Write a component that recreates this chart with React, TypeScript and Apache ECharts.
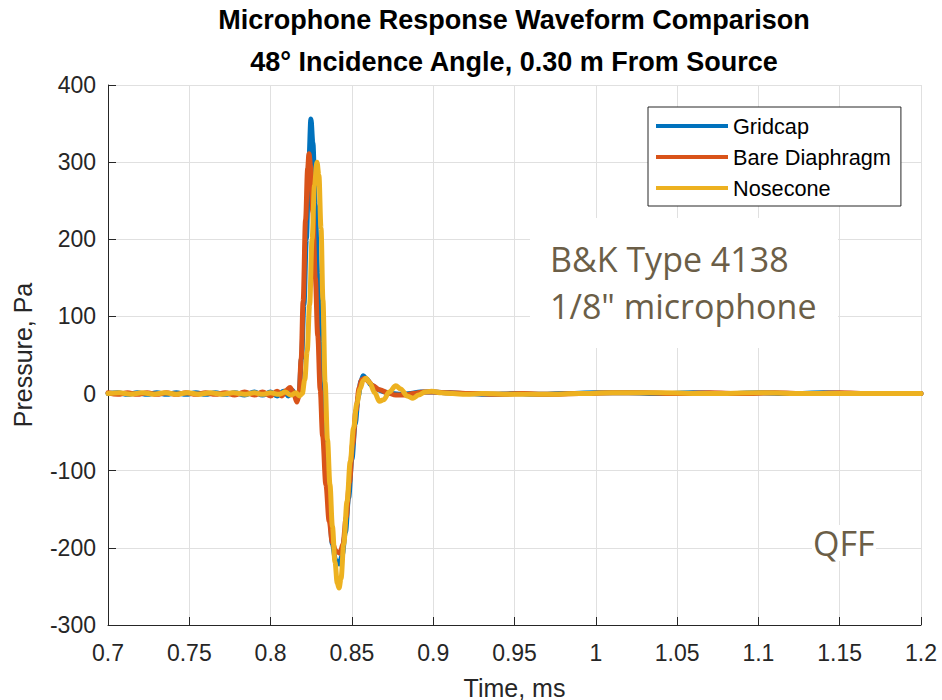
import React, { useEffect, useRef } from "react";
import * as echarts from "echarts";

const TITLE_LINE_1 = "Microphone Response Waveform Comparison";
const TITLE_LINE_2 = "48°\u00A0Incidence Angle, 0.30 m From Source";
const X_NAME = "Time, ms";
const Y_NAME = "Pressure, Pa";
const SERIES_NAMES = ["Gridcap", "Bare Diaphragm", "Nosecone"];
const SERIES_COLORS = ["#0072BD", "#D95319", "#EDB120"];
const X_RANGE = [0.7, 1.2, 0.05];
const Y_RANGE = [-300, 400, 100];
const NOTE_LINES = ["B&K Type 4138", '1/8" microphone'];
const NOTE_QFF = "QFF";

// [time ms, pressure Pa]
const gridcap: [number, number][] = [
  [0.7, 0], [0.706, 1], [0.712, -1], [0.718, 1], [0.724, -1], [0.73, 1], [0.736, -1],
  [0.742, 1], [0.748, -1], [0.754, 1], [0.76, -1], [0.766, 1], [0.772, -1], [0.778, 1],
  [0.784, -2], [0.79, 2], [0.795, -2], [0.8, 2], [0.804, -3], [0.808, 3], [0.811, -3],
  [0.8135, 4], [0.815, -2], [0.8165, -7], [0.8175, 0], [0.819, 45], [0.8205, 115],
  [0.822, 200], [0.8235, 300], [0.8248, 356], [0.826, 325], [0.8275, 245], [0.829, 155],
  [0.8305, 65], [0.832, -15], [0.834, -85], [0.836, -150], [0.838, -195], [0.84, -216],
  [0.8422, -221], [0.844, -210], [0.846, -180], [0.848, -135], [0.85, -85], [0.852, -40],
  [0.854, -3], [0.8555, 16], [0.857, 23], [0.859, 19], [0.862, 11], [0.866, 5], [0.87, 2],
  [0.875, 0], [0.88, -1], [0.886, 0], [0.892, 2], [0.9, 2], [0.91, 1], [0.92, 0],
  [0.935, -1], [0.95, 0], [0.965, -1], [0.98, 0], [1.0, 1], [1.02, 1], [1.04, 0],
  [1.06, 1], [1.08, 0], [1.1, 1], [1.12, 0], [1.14, 1], [1.16, 0], [1.18, 0], [1.2, 0],
];

const bareDiaphragm: [number, number][] = [
  [0.7, 1], [0.706, -1], [0.712, 1], [0.718, -1], [0.724, 1], [0.73, -1], [0.736, 1],
  [0.742, -1], [0.748, 1], [0.754, -1], [0.76, 1], [0.766, -1], [0.772, 1], [0.778, -2],
  [0.784, 2], [0.79, -2], [0.795, 2], [0.8, -3], [0.804, 3], [0.807, -3], [0.8095, 4],
  [0.812, 8], [0.8142, 0], [0.8162, -11], [0.8175, -2], [0.8188, 45], [0.82, 120],
  [0.8215, 225], [0.8228, 292], [0.8236, 311], [0.8246, 295], [0.826, 235], [0.8275, 150],
  [0.829, 75], [0.8305, 5], [0.832, -55], [0.834, -118], [0.836, -165], [0.838, -193],
  [0.84, -204], [0.8427, -207], [0.8445, -195], [0.8465, -160], [0.8485, -115],
  [0.8505, -65], [0.8525, -22], [0.8545, 8], [0.856, 18], [0.858, 20], [0.86, 16],
  [0.863, 10], [0.867, 5], [0.872, 1], [0.877, -2], [0.882, -2], [0.888, 0], [0.894, 2],
  [0.9, 2], [0.91, 1], [0.925, 0], [0.94, -1], [0.955, 0], [0.97, -1], [0.99, 0],
  [1.01, 1], [1.03, 1], [1.05, 0], [1.07, 1], [1.09, 0], [1.11, 1], [1.13, 0],
  [1.15, 1], [1.17, 0], [1.2, 0],
];

const nosecone: [number, number][] = [
  [0.7, 0], [0.707, 1], [0.714, -1], [0.721, 1], [0.728, -1], [0.735, 1], [0.742, -1],
  [0.749, 1], [0.756, -1], [0.763, 1], [0.77, -1], [0.777, 1], [0.784, -1], [0.79, 1],
  [0.795, -1], [0.8, 1], [0.805, -1], [0.809, 2], [0.8125, -2], [0.8155, 1], [0.8178, -3],
  [0.8195, 0], [0.821, 18], [0.8225, 55], [0.824, 115], [0.8255, 200], [0.827, 270],
  [0.8285, 300], [0.8297, 283], [0.831, 215], [0.8322, 121], [0.8335, 15], [0.835, -60],
  [0.8365, -118], [0.838, -172], [0.8396, -218], [0.841, -246], [0.8421, -252],
  [0.8433, -240], [0.845, -195], [0.847, -140], [0.849, -88], [0.851, -45], [0.853, -13],
  [0.855, 6], [0.857, 17], [0.8587, 20], [0.861, 14], [0.864, 1], [0.867, -10],
  [0.8695, -8], [0.873, 2], [0.877, 10], [0.88, 6], [0.884, -3], [0.8876, -6],
  [0.891, -2], [0.895, 2], [0.899, 3], [0.905, 1], [0.912, 0], [0.92, -1], [0.93, 0],
  [0.95, -1], [0.97, -1], [0.99, 0], [1.01, 1], [1.04, 1], [1.07, 0], [1.1, 1],
  [1.13, 0], [1.16, 0], [1.2, 0],
];

const SERIES_DATA = [gridcap, bareDiaphragm, nosecone];

const AXIS_COLOR = "#262626";
const GRID_COLOR = "#e0e0e0";
const NOTE_COLOR = "#6b5e47";
const FONT = '"Liberation Sans", Arial, sans-serif';
const NOTE_FONT = '"Open Sans", sans-serif';

export default function App() {
  const ref = useRef<HTMLDivElement>(null);

  useEffect(() => {
    if (!ref.current) return;
    const chart = echarts.init(ref.current, undefined, { renderer: "svg" });
    const fmt = (v: number) => String(Math.round(v * 100) / 100);

    chart.setOption({
      animation: false,
      backgroundColor: "#ffffff",
      textStyle: { fontFamily: FONT },
      grid: {
        left: 108,
        right: 21,
        top: 85,
        bottom: 75,
        containLabel: false,
        outerBoundsMode: "none",
      },
      xAxis: {
        type: "value",
        min: X_RANGE[0],
        max: X_RANGE[1],
        interval: X_RANGE[2],
        name: X_NAME,
        nameLocation: "middle",
        nameGap: 50,
        nameTextStyle: { fontSize: 25, color: AXIS_COLOR, fontFamily: FONT },
        axisLine: { show: true, onZero: false, lineStyle: { color: AXIS_COLOR, width: 1 } },
        axisTick: { show: true, inside: true, length: 8, lineStyle: { color: AXIS_COLOR } },
        axisLabel: { fontSize: 23, color: AXIS_COLOR, margin: 16, formatter: fmt, fontFamily: FONT },
        splitLine: { show: true, lineStyle: { color: GRID_COLOR, width: 1 } },
      },
      yAxis: {
        type: "value",
        min: Y_RANGE[0],
        max: Y_RANGE[1],
        interval: Y_RANGE[2],
        name: Y_NAME,
        nameLocation: "middle",
        nameGap: 73,
        nameTextStyle: { fontSize: 25, color: AXIS_COLOR, fontFamily: FONT },
        axisLine: { show: true, onZero: false, lineStyle: { color: AXIS_COLOR, width: 1 } },
        axisTick: { show: true, inside: true, length: 8, lineStyle: { color: AXIS_COLOR } },
        axisLabel: { fontSize: 23, color: AXIS_COLOR, margin: 12, fontFamily: FONT },
        splitLine: { show: true, lineStyle: { color: GRID_COLOR, width: 1 } },
      },
      legend: {
        show: true,
        orient: "vertical",
        left: 648,
        top: 107,
        padding: [8, 10, 7, 8],
        itemGap: 9,
        itemWidth: 72,
        itemHeight: 4,
        icon: "rect",
        backgroundColor: "#ffffff",
        borderColor: AXIS_COLOR,
        borderWidth: 1,
        borderRadius: 0,
        textStyle: { fontSize: 21.7, color: "#000000", fontFamily: FONT },
        data: SERIES_NAMES,
      },
      graphic: [
        {
          type: "text",
          style: {
            text: TITLE_LINE_1,
            x: 514,
            y: 20,
            align: "center",
            verticalAlign: "middle",
            font: `bold 27px ${FONT}`,
            fill: "#000000",
          },
        },
        {
          type: "text",
          style: {
            text: TITLE_LINE_2,
            x: 514,
            y: 62,
            align: "center",
            verticalAlign: "middle",
            font: `bold 27px ${FONT}`,
            fill: "#000000",
          },
        },
        {
          type: "rect",
          z: 1,
          shape: { x: 530, y: 218, width: 308, height: 130 },
          style: { fill: "#ffffff" },
        },
        {
          type: "rect",
          z: 1,
          shape: { x: 812, y: 525, width: 64, height: 36 },
          style: { fill: "#ffffff" },
        },
        {
          type: "text",
          z: 2,
          style: {
            text: NOTE_LINES[0],
            x: 550,
            y: 259,
            align: "left",
            verticalAlign: "middle",
            font: `34px ${NOTE_FONT}`,
            fill: NOTE_COLOR,
          },
        },
        {
          type: "text",
          z: 2,
          style: {
            text: NOTE_LINES[1],
            x: 550,
            y: 306,
            align: "left",
            verticalAlign: "middle",
            font: `34px ${NOTE_FONT}`,
            fill: NOTE_COLOR,
          },
        },
        {
          type: "text",
          z: 2,
          style: {
            text: NOTE_QFF,
            x: 813,
            y: 543,
            align: "left",
            verticalAlign: "middle",
            font: `34px ${NOTE_FONT}`,
            fill: NOTE_COLOR,
          },
        },
      ],
      series: SERIES_NAMES.map((name, i) => ({
        name,
        type: "line",
        data: SERIES_DATA[i],
        showSymbol: false,
        symbol: "none",
        smooth: 0.35,
        smoothMonotone: "x",
        z: 3 + i,
        itemStyle: { color: SERIES_COLORS[i] },
        lineStyle: { color: SERIES_COLORS[i], width: 5, cap: "round", join: "round" },
      })),
    });

    return () => chart.dispose();
  }, []);

  return (
    <div
      ref={ref}
      style={{ position: "fixed", left: 0, top: 0, width: 942, height: 700 }}
    />
  );
}
